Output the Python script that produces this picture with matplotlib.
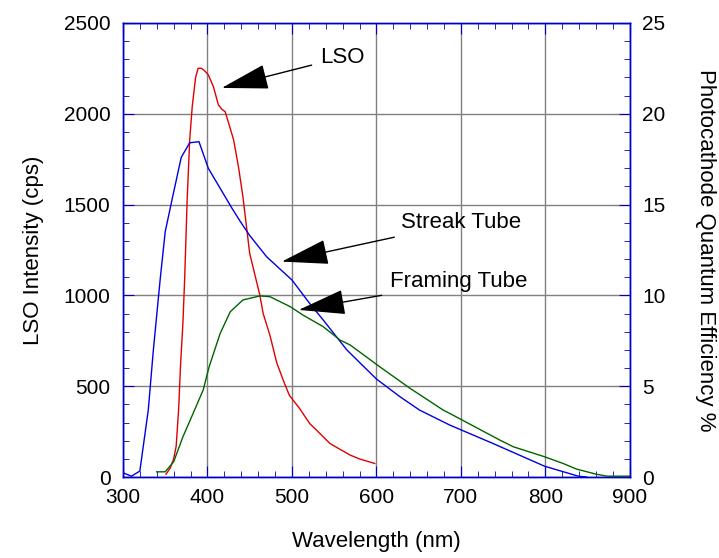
import matplotlib
matplotlib.use('Agg')
import matplotlib.pyplot as plt
from matplotlib.ticker import MultipleLocator

plt.rcParams['font.family'] = ['Liberation Sans', 'DejaVu Sans']

## LSO emission (left axis, cps)
lso_wl = [351, 356, 360, 363, 366, 368, 371, 373, 376, 379, 382, 386, 389, 393,
          397, 401, 407, 413, 417, 421, 425, 431, 437, 442, 450, 462, 466, 474,
          482, 490, 497, 509, 521, 529, 545, 555, 569, 580, 598]
lso_int = [16, 50, 100, 170, 380, 600, 850, 1085, 1525, 1856, 2039, 2200, 2250, 2250,
           2235, 2214, 2150, 2048, 2025, 2011, 1950, 1856, 1700, 1543, 1232, 1002, 900, 780,
           630, 530, 450, 378, 295, 259, 185, 158, 121, 100, 75]

## Streak tube photocathode QE (right axis, %)
streak_wl = [300, 310, 320, 330, 336, 344, 350, 358, 369, 379, 390, 401, 429, 439,
             450, 470, 500, 521, 537, 565, 600, 628, 651, 687, 738, 799, 839, 849]
streak_qe = [0.24, 0.05, 0.33, 3.7, 7.0, 10.85, 13.5, 15.25, 17.6, 18.4, 18.46, 17.0, 14.8, 14.06,
             13.3, 12.13, 10.85, 9.56, 8.65, 7.0, 5.4, 4.42, 3.69, 2.86, 1.85, 0.6, 0.05, 0.0]

## Framing tube photocathode QE (right axis, %)
framing_wl = [340, 350, 360, 371, 383, 395, 402, 415, 427, 442, 462, 474, 498, 513,
              537, 557, 569, 604, 640, 679, 687, 746, 762, 799, 821, 837, 861, 873, 900]
framing_qe = [0.29, 0.29, 0.84, 2.22, 3.5, 4.8, 6.07, 7.9, 9.1, 9.75, 9.97, 9.93, 9.38, 8.92,
              8.28, 7.54, 7.27, 6.07, 4.88, 3.69, 3.5, 2.04, 1.67, 1.12, 0.75, 0.44, 0.15, 0.05, 0.05]

frame_col = '#0000cc'

fig = plt.figure(figsize=(7.19, 5.58), dpi=100)
ax = fig.add_axes([0.171, 0.145, 0.705, 0.814])
ax2 = ax.twinx()

ax.plot(lso_wl, lso_int, color='#e00000', lw=1)
ax2.plot(streak_wl, streak_qe, color='#0000e0', lw=1)
ax2.plot(framing_wl, framing_qe, color='#006400', lw=1)

ax.set_xlim(300, 900)
ax.set_ylim(0, 2500)
ax2.set_ylim(0, 25)
ax.xaxis.set_major_locator(MultipleLocator(100))
ax.xaxis.set_minor_locator(MultipleLocator(20))
ax.yaxis.set_major_locator(MultipleLocator(500))
ax.yaxis.set_minor_locator(MultipleLocator(100))
ax2.yaxis.set_major_locator(MultipleLocator(5))
ax2.yaxis.set_minor_locator(MultipleLocator(1))

ax.grid(True, which='major', color='#808080', lw=1)
ax.set_axisbelow(True)

for a in (ax, ax2):
    for s in a.spines.values():
        s.set_color(frame_col)
        s.set_linewidth(1)
ax.tick_params(which='both', direction='in', top=True, right=False, color=frame_col,
               labelsize=15)
ax.tick_params(axis='x', pad=8)
ax.tick_params(axis='y', pad=9)
ax.tick_params(which='major', length=8)
ax.tick_params(which='minor', length=4)
ax2.tick_params(which='both', direction='in', color=frame_col, labelsize=15, pad=9)
ax2.tick_params(which='major', length=8)
ax2.tick_params(which='minor', length=4)

ax.set_xlabel('Wavelength (nm)', fontsize=16, labelpad=17)
ax.set_ylabel('LSO Intensity (cps)', fontsize=16, labelpad=14)
ax2.set_ylabel('Photocathode Quantum Efficiency %', fontsize=16, rotation=-90, labelpad=36)

arrow = dict(arrowstyle='-|>,head_length=1.5,head_width=0.4', color='black',
             lw=1, mutation_scale=20, shrinkA=4, shrinkB=0)
ax2.annotate('LSO', xy=(417, 21.42), xytext=(533, 23.1), fontsize=16,
             va='center', ha='left', arrowprops=arrow)
ax2.annotate('Streak Tube', xy=(488, 11.86), xytext=(629, 14.0), fontsize=16,
             va='center', ha='left', arrowprops=arrow)
ax2.annotate('Framing Tube', xy=(508, 9.2), xytext=(616, 10.75), fontsize=16,
             va='center', ha='left', arrowprops=arrow)

fig.savefig('out.png', dpi=100)
